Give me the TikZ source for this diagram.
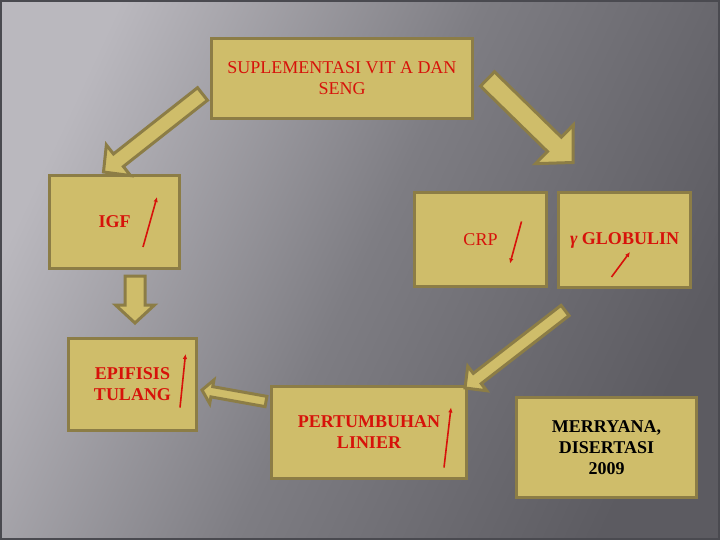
\documentclass[tikz,border=0pt]{standalone}
\usepackage{fontspec}
\setmainfont{Liberation Serif}
\usetikzlibrary{calc,arrows.meta}

\definecolor{boxfill}{RGB}{207,189,106}
\definecolor{boxline}{RGB}{140,125,70}
\definecolor{redtext}{RGB}{215,18,10}
\definecolor{bglight}{RGB}{186,184,190}
\definecolor{bgmid}{RGB}{126,125,131}
\definecolor{bgdark}{RGB}{92,91,97}
\definecolor{bgframe}{RGB}{74,74,80}

\tikzset{
  box/.style={draw=boxline, fill=boxfill, line width=3pt, inner sep=2pt, align=center, text=redtext, font=\fontsize{18}{21}\selectfont},
  boldbox/.style={box, font=\fontsize{18}{21}\selectfont\bfseries},
  fat/.style={draw=boxline, fill=boxfill, line width=3pt, line join=miter},
  trend/.style={draw=redtext, line width=1.6pt, -{Latex[length=5pt,width=4.5pt]}}
}

% block arrow: tail, tip, shaft half width, head half width, head length
\newcommand{\fatarrow}[5]{%
  \coordinate (fb) at ($(#2)!#5!(#1)$);
  \draw[fat] ($(#1)!#3!90:(#2)$) -- ($(fb)!#3!-90:(#1)$) -- ($(fb)!#4!-90:(#1)$) -- (#2)
    -- ($(fb)!#4!90:(#1)$) -- ($(fb)!#3!90:(#1)$) -- ($(#1)!#3!-90:(#2)$) -- cycle;
}

\begin{document}
\begin{tikzpicture}[x=1pt,y=-1pt]
  \useasboundingbox (0,0) rectangle (720,540);
  \shade[top color=bglight, bottom color=bgdark, middle color=bgmid, shading angle=65] (0,0) rectangle (720,540);
  \draw[bgframe, line width=4pt] (0,0) rectangle (720,540);

  % boxes
  \node[box, minimum width=261pt, minimum height=80pt] (supl) at (342,78.5) {SUPLEMENTASI VIT A DAN\\SENG};
  \node[boldbox, minimum width=130pt, minimum height=93pt] (igf) at (114.5,222) {IGF};
  \node[box, minimum width=132pt, minimum height=94pt] (crp) at (480.5,239.5) {CRP};
  \node[boldbox, minimum width=132pt, minimum height=94pt] (glob) at (624.5,240) {\textit{γ} GLOBULIN};
  \node[boldbox, minimum width=128pt, minimum height=92pt] (epi) at (132.5,384.5) {EPIFISIS\\TULANG};
  \node[boldbox, minimum width=195pt, minimum height=92pt] (pert) at (369,432.5) {PERTUMBUHAN\\LINIER};
  \node[boldbox, text=black, minimum width=180pt, minimum height=100pt] (merr) at (606.5,447.5) {MERRYANA,\\DISERTASI\\2009};

  % block arrows
  \coordinate (s1) at ($(supl.west)+(-7.5,15.5)$);
  \coordinate (t1) at ($(igf.north)+(-11,-2)$);
  \coordinate (s2) at ($(supl.east)+(13.5,0.5)$);
  \coordinate (t2) at ($(glob.north west)+(16,-29)$);
  \coordinate (s3) at ($(igf.south)+(20.5,6)$);
  \coordinate (t3) at ($(epi.north)+(2.5,-14)$);
  \coordinate (s4) at ($(glob.south)+(-59.5,22)$);
  \coordinate (t4) at ($(pert.north east)+(-3,3)$);
  \coordinate (s5) at ($(pert.west)+(-4,-31)$);
  \coordinate (t5) at ($(epi.east)+(4,5.5)$);
  \fatarrow{s1}{t1}{8pt}{19.5pt}{19pt}
  \fatarrow{s2}{t2}{10pt}{27pt}{26pt}
  \fatarrow{s3}{t3}{10pt}{19.5pt}{18pt}
  \fatarrow{s4}{t4}{6.5pt}{15.5pt}{15.5pt}
  \fatarrow{s5}{t5}{5.2pt}{12pt}{10pt}

  % up / down marks
  \draw[trend] ($(igf)+(28.5,25)$) -- ($(igf)+(42.5,-25)$);
  \draw[trend] ($(crp)+(41,-18)$) -- ($(crp)+(29.5,24)$);
  \draw[trend] ($(glob)+(-13,37)$) -- ($(glob)+(5.5,12)$);
  \draw[trend] ($(epi)+(47.5,23)$) -- ($(epi)+(53,-30.5)$);
  \draw[trend] ($(pert)+(75,35)$) -- ($(pert)+(82,-25)$);
\end{tikzpicture}
\end{document}
